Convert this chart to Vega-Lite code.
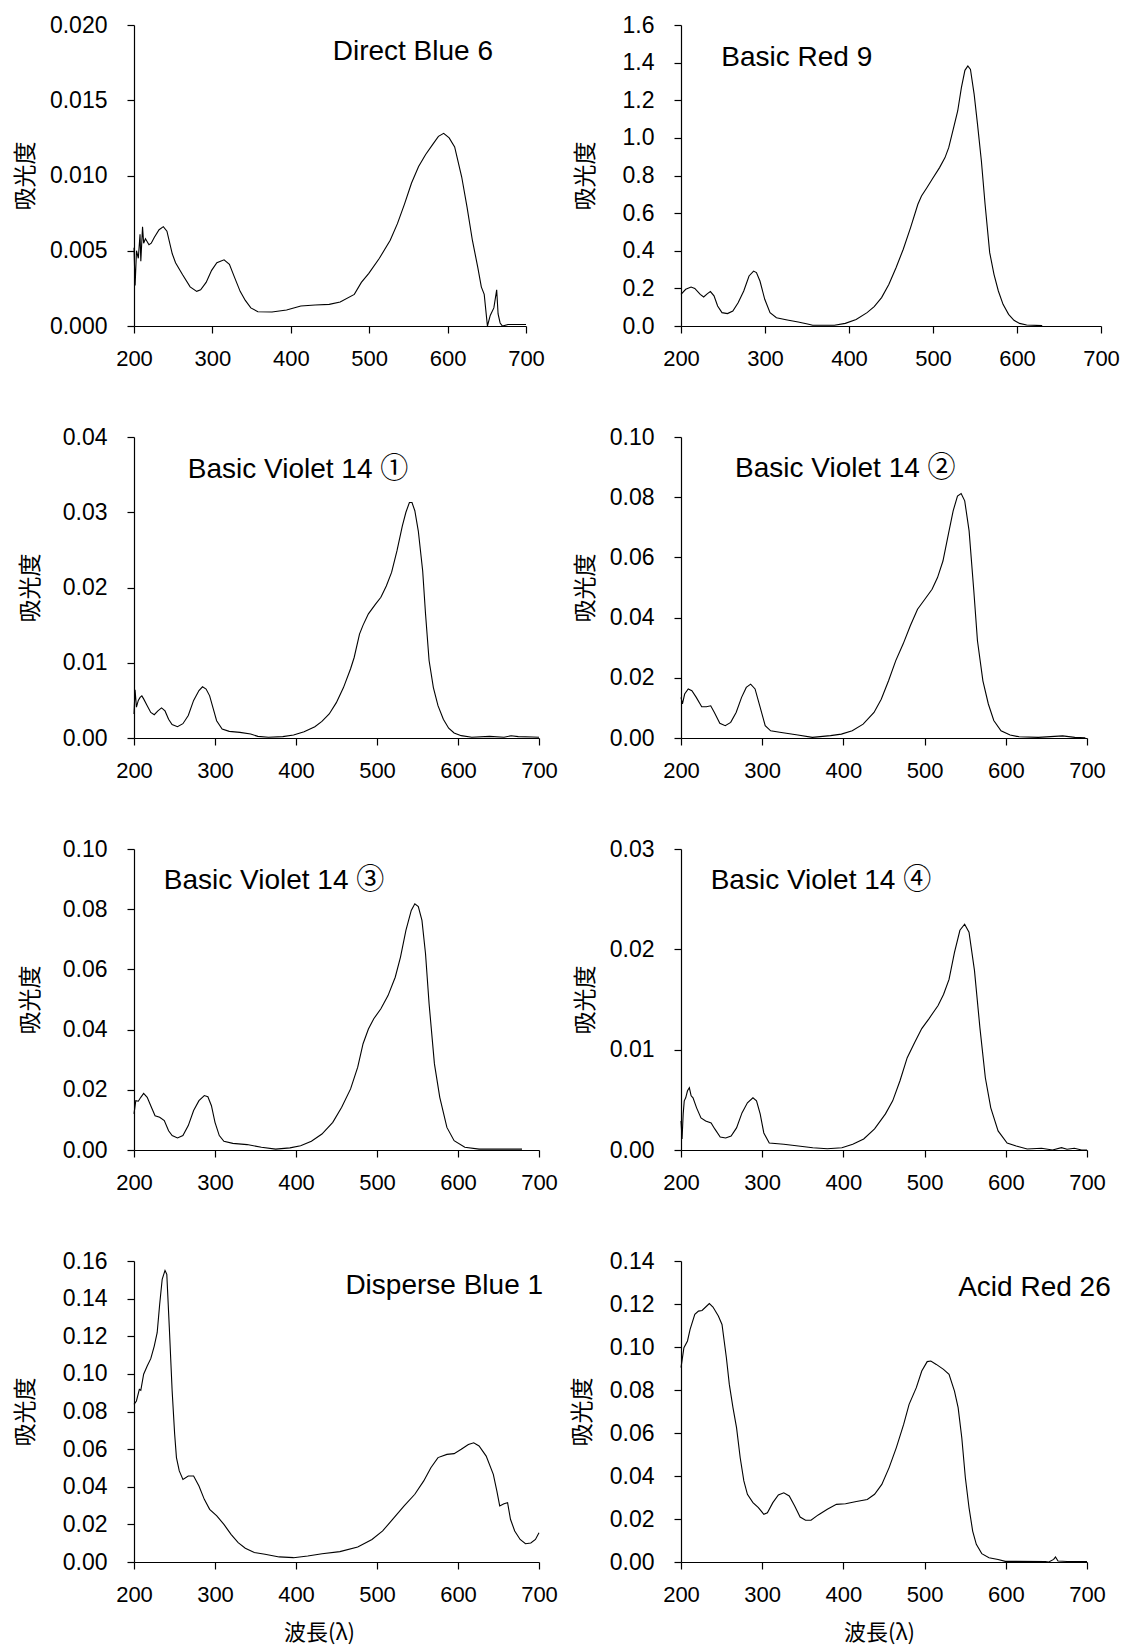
{
  "$schema": "https://vega.github.io/schema/vega-lite/v6.json",
  "padding": {"left": 14, "top": 14, "right": 9, "bottom": 2},
  "background": "white",
  "columns": 2,
  "spacing": {"row": 111, "column": 142},
  "bounds": "flush",
  "align": "each",
  "config": {
    "view": {"stroke": null},
    "axis": {
      "domainColor": "#000", "domainWidth": 1.2,
      "tickColor": "#000", "tickWidth": 1.2, "tickSize": 7,
      "grid": false,
      "labelColor": "#000", "labelFont": "Liberation Sans",
      "titleColor": "#000", "titleFont": "Noto Sans CJK JP", "titleFontSize": 23, "titleFontWeight": "normal"
    },
    "axisX": {"labelFontSize": 22, "labelPadding": 15, "titlePadding": 17, "titleFontSize": 22, "labelFlush": false},
    "axisY": {"labelFontSize": 23, "labelPadding": 20, "titlePadding": 0},
    "line": {"color": "#000", "strokeWidth": 1.1},
    "text": {"font": "Liberation Sans, Noto Sans CJK JP", "fontSize": 28, "color": "#000", "baseline": "alphabetic", "align": "center"}
  },
  "datasets": {
    "direct_blue_6": [
      {"wl":200,"abs":0.0052},{"wl":201.4,"abs":0.0027},{"wl":203.2,"abs":0.005},{"wl":205.5,"abs":0.0045},{"wl":207.7,"abs":0.0061},{"wl":208.7,"abs":0.0043},{"wl":210.9,"abs":0.0066},{"wl":212.3,"abs":0.0055},{"wl":214.6,"abs":0.0058},{"wl":219.1,"abs":0.0054},{"wl":222,"abs":0.0055},{"wl":226,"abs":0.0059},{"wl":232,"abs":0.0064},{"wl":237.4,"abs":0.0066},{"wl":242,"abs":0.0063},{"wl":248.8,"abs":0.0048},{"wl":253,"abs":0.0042},{"wl":262,"abs":0.0034},{"wl":271.6,"abs":0.0026},{"wl":280,"abs":0.0023},{"wl":285,"abs":0.0024},{"wl":292,"abs":0.0029},{"wl":299,"abs":0.0037},{"wl":305.7,"abs":0.0042},{"wl":314.9,"abs":0.0044},{"wl":321.7,"abs":0.0041},{"wl":328.5,"abs":0.0032},{"wl":335.4,"abs":0.0023},{"wl":342,"abs":0.0017},{"wl":349,"abs":0.0012},{"wl":358,"abs":0.00095},{"wl":376,"abs":0.00093},{"wl":394.6,"abs":0.00106},{"wl":412.8,"abs":0.00133},{"wl":431,"abs":0.0014},{"wl":449,"abs":0.00144},{"wl":463,"abs":0.0016},{"wl":481,"abs":0.0021},{"wl":490,"abs":0.0029},{"wl":499.5,"abs":0.0035},{"wl":513,"abs":0.0045},{"wl":526.8,"abs":0.0057},{"wl":536,"abs":0.0068},{"wl":545,"abs":0.0081},{"wl":554,"abs":0.0095},{"wl":563,"abs":0.0106},{"wl":572,"abs":0.0114},{"wl":581.5,"abs":0.0121},{"wl":588.3,"abs":0.0126},{"wl":595,"abs":0.0128},{"wl":602,"abs":0.0125},{"wl":609,"abs":0.0119},{"wl":618,"abs":0.0099},{"wl":624.8,"abs":0.0079},{"wl":631.6,"abs":0.0057},{"wl":638.5,"abs":0.0039},{"wl":643,"abs":0.0026},{"wl":646.7,"abs":0.0021},{"wl":650.8,"abs":0},{"wl":654.4,"abs":0.0007},{"wl":659,"abs":0.0012},{"wl":662.6,"abs":0.0024},{"wl":664.4,"abs":0.0008},{"wl":667,"abs":0.0002},{"wl":670,"abs":0},{"wl":677,"abs":0.0001},{"wl":686,"abs":0.0001},{"wl":700,"abs":0.0001}
    ],
    "basic_red_9": [
      {"wl":200,"abs":0.168},{"wl":205.6,"abs":0.195},{"wl":212,"abs":0.207},{"wl":216.4,"abs":0.2},{"wl":222.9,"abs":0.168},{"wl":227,"abs":0.154},{"wl":231.5,"abs":0.172},{"wl":235,"abs":0.183},{"wl":239.3,"abs":0.16},{"wl":243.6,"abs":0.106},{"wl":248.8,"abs":0.071},{"wl":255.3,"abs":0.066},{"wl":261.7,"abs":0.08},{"wl":268,"abs":0.124},{"wl":274.7,"abs":0.186},{"wl":281,"abs":0.266},{"wl":286.4,"abs":0.292},{"wl":289.8,"abs":0.284},{"wl":294,"abs":0.239},{"wl":299.7,"abs":0.142},{"wl":306,"abs":0.071},{"wl":313.6,"abs":0.044},{"wl":326.5,"abs":0.032},{"wl":339.5,"abs":0.021},{"wl":352,"abs":0.009},{"wl":356.7,"abs":0.004},{"wl":382.6,"abs":0.004},{"wl":395.6,"abs":0.014},{"wl":408.5,"abs":0.035},{"wl":421.5,"abs":0.071},{"wl":430,"abs":0.103},{"wl":438.8,"abs":0.151},{"wl":447.4,"abs":0.221},{"wl":456,"abs":0.31},{"wl":464.6,"abs":0.408},{"wl":473.3,"abs":0.523},{"wl":482,"abs":0.647},{"wl":486.3,"abs":0.691},{"wl":492.7,"abs":0.735},{"wl":499,"abs":0.78},{"wl":507.8,"abs":0.842},{"wl":514.3,"abs":0.895},{"wl":518.7,"abs":0.948},{"wl":525,"abs":1.063},{"wl":529.4,"abs":1.143},{"wl":533.8,"abs":1.267},{"wl":538,"abs":1.359},{"wl":541.5,"abs":1.382},{"wl":544.6,"abs":1.364},{"wl":549,"abs":1.231},{"wl":553,"abs":1.072},{"wl":557.6,"abs":0.877},{"wl":562,"abs":0.647},{"wl":567.5,"abs":0.39},{"wl":572.6,"abs":0.275},{"wl":577.8,"abs":0.186},{"wl":583.4,"abs":0.115},{"wl":590,"abs":0.062},{"wl":596.4,"abs":0.03},{"wl":603,"abs":0.014},{"wl":611.5,"abs":0.005},{"wl":630,"abs":0.002}
    ],
    "basic_violet_14_1": [
      {"wl":200,"abs":0.0032},{"wl":201.3,"abs":0.0064},{"wl":203,"abs":0.0041},{"wl":205.3,"abs":0.005},{"wl":207.5,"abs":0.0054},{"wl":209.7,"abs":0.0056},{"wl":211.9,"abs":0.0052},{"wl":216.3,"abs":0.0043},{"wl":220.7,"abs":0.0034},{"wl":225,"abs":0.0031},{"wl":229.5,"abs":0.0036},{"wl":234,"abs":0.004},{"wl":238.3,"abs":0.0036},{"wl":242.7,"abs":0.0025},{"wl":247,"abs":0.0018},{"wl":253.7,"abs":0.0015},{"wl":260.4,"abs":0.0019},{"wl":267,"abs":0.003},{"wl":273.6,"abs":0.005},{"wl":280.2,"abs":0.0063},{"wl":284.6,"abs":0.0068},{"wl":289,"abs":0.0065},{"wl":293.4,"abs":0.0056},{"wl":297.8,"abs":0.0039},{"wl":302,"abs":0.0023},{"wl":308.8,"abs":0.0012},{"wl":317.6,"abs":0.00088},{"wl":330.8,"abs":0.00075},{"wl":344,"abs":0.00053},{"wl":352.9,"abs":0.00022},{"wl":366,"abs":0.0001},{"wl":383.7,"abs":0.00018},{"wl":397,"abs":0.0004},{"wl":410,"abs":0.00084},{"wl":423.3,"abs":0.0015},{"wl":432,"abs":0.0022},{"wl":441,"abs":0.0032},{"wl":449.8,"abs":0.0047},{"wl":458.6,"abs":0.0067},{"wl":467.4,"abs":0.0092},{"wl":471.8,"abs":0.0107},{"wl":478.4,"abs":0.0138},{"wl":482.8,"abs":0.015},{"wl":489.4,"abs":0.0165},{"wl":498.2,"abs":0.0178},{"wl":504.8,"abs":0.0187},{"wl":511.5,"abs":0.0202},{"wl":518,"abs":0.022},{"wl":524.7,"abs":0.0249},{"wl":531.3,"abs":0.0282},{"wl":535.7,"abs":0.03},{"wl":540,"abs":0.0313},{"wl":543.2,"abs":0.0313},{"wl":546.7,"abs":0.0302},{"wl":551,"abs":0.0275},{"wl":556.4,"abs":0.0222},{"wl":559.9,"abs":0.0165},{"wl":564.3,"abs":0.0103},{"wl":569.6,"abs":0.0067},{"wl":575.3,"abs":0.0043},{"wl":581.9,"abs":0.0025},{"wl":588.5,"abs":0.0013},{"wl":595.2,"abs":0.00066},{"wl":604,"abs":0.00031},{"wl":617,"abs":0.0001},{"wl":639,"abs":0.00022},{"wl":656.8,"abs":0.0001},{"wl":665.6,"abs":0.0003},{"wl":674.4,"abs":0.00018},{"wl":692,"abs":0.00013},{"wl":700,"abs":0.0001}
    ],
    "basic_violet_14_2": [
      {"wl":200,"abs":0.0135},{"wl":201.8,"abs":0.0113},{"wl":204.5,"abs":0.0146},{"wl":208.9,"abs":0.0163},{"wl":213.4,"abs":0.0157},{"wl":218.8,"abs":0.0135},{"wl":225.5,"abs":0.0104},{"wl":231.3,"abs":0.0104},{"wl":236.6,"abs":0.0107},{"wl":241.1,"abs":0.0085},{"wl":247.8,"abs":0.0049},{"wl":254.5,"abs":0.0041},{"wl":261.2,"abs":0.0052},{"wl":267.9,"abs":0.0085},{"wl":274.6,"abs":0.0135},{"wl":280.4,"abs":0.0168},{"wl":285.8,"abs":0.0179},{"wl":291.2,"abs":0.0163},{"wl":297,"abs":0.0107},{"wl":303.7,"abs":0.0041},{"wl":310.4,"abs":0.0024},{"wl":321.5,"abs":0.0019},{"wl":343.9,"abs":0.001},{"wl":361.8,"abs":0.0002},{"wl":384.1,"abs":0.0008},{"wl":397.5,"abs":0.0013},{"wl":410.9,"abs":0.0024},{"wl":424.3,"abs":0.0046},{"wl":437.7,"abs":0.0085},{"wl":446.6,"abs":0.0129},{"wl":455.6,"abs":0.019},{"wl":464.5,"abs":0.0257},{"wl":473.5,"abs":0.0312},{"wl":482.4,"abs":0.0373},{"wl":491.3,"abs":0.0428},{"wl":500.3,"abs":0.0461},{"wl":509.2,"abs":0.0494},{"wl":515.9,"abs":0.0533},{"wl":522.6,"abs":0.0588},{"wl":529.3,"abs":0.0677},{"wl":535.1,"abs":0.0754},{"wl":540.5,"abs":0.0804},{"wl":545,"abs":0.0812},{"wl":549.4,"abs":0.0788},{"wl":554.8,"abs":0.0688},{"wl":560.6,"abs":0.0489},{"wl":565.1,"abs":0.0323},{"wl":571.8,"abs":0.019},{"wl":578.5,"abs":0.0113},{"wl":585.2,"abs":0.0058},{"wl":594.1,"abs":0.0024},{"wl":605.3,"abs":0.001},{"wl":616.4,"abs":0.0004},{"wl":640,"abs":0.0002},{"wl":670,"abs":0.0007},{"wl":685,"abs":0.0002},{"wl":698,"abs":0.0001}
    ],
    "basic_violet_14_3": [
      {"wl":200,"abs":0.012},{"wl":202.2,"abs":0.0164},{"wl":205.3,"abs":0.0162},{"wl":208.4,"abs":0.0175},{"wl":211.9,"abs":0.0188},{"wl":216.3,"abs":0.0175},{"wl":220.7,"abs":0.0147},{"wl":226,"abs":0.0114},{"wl":231.7,"abs":0.0109},{"wl":237.4,"abs":0.0098},{"wl":242.7,"abs":0.0064},{"wl":247.1,"abs":0.0048},{"wl":253.7,"abs":0.004},{"wl":260.4,"abs":0.0048},{"wl":267,"abs":0.0081},{"wl":273.6,"abs":0.0131},{"wl":280.2,"abs":0.0164},{"wl":286.8,"abs":0.0181},{"wl":291.2,"abs":0.0177},{"wl":295.6,"abs":0.0147},{"wl":300,"abs":0.0092},{"wl":305.3,"abs":0.0048},{"wl":311,"abs":0.0029},{"wl":322,"abs":0.0022},{"wl":339.6,"abs":0.0018},{"wl":357.3,"abs":0.0009},{"wl":374.9,"abs":0.0003},{"wl":392.5,"abs":0.0007},{"wl":405.7,"abs":0.0014},{"wl":419,"abs":0.0029},{"wl":432,"abs":0.0053},{"wl":445.4,"abs":0.0092},{"wl":456.4,"abs":0.0142},{"wl":467.4,"abs":0.0203},{"wl":476.2,"abs":0.0275},{"wl":482.8,"abs":0.0353},{"wl":489.4,"abs":0.0402},{"wl":496,"abs":0.0436},{"wl":504.8,"abs":0.0469},{"wl":513.6,"abs":0.0513},{"wl":522.5,"abs":0.0574},{"wl":529,"abs":0.0641},{"wl":535.7,"abs":0.073},{"wl":542.3,"abs":0.0796},{"wl":546.7,"abs":0.0818},{"wl":551,"abs":0.0809},{"wl":555.5,"abs":0.0763},{"wl":559.9,"abs":0.0652},{"wl":564.3,"abs":0.0486},{"wl":570.9,"abs":0.0286},{"wl":577.5,"abs":0.0175},{"wl":586.3,"abs":0.0075},{"wl":595.2,"abs":0.0031},{"wl":608.4,"abs":0.0009},{"wl":626,"abs":0.0003},{"wl":679,"abs":0.0003}
    ],
    "basic_violet_14_4": [
      {"wl":200,"abs":0.0029},{"wl":201.3,"abs":0.0011},{"wl":202.7,"abs":0.0036},{"wl":204,"abs":0.0049},{"wl":205.8,"abs":0.0052},{"wl":208,"abs":0.0059},{"wl":210.3,"abs":0.0062},{"wl":212.5,"abs":0.0054},{"wl":214.8,"abs":0.0052},{"wl":219.2,"abs":0.0042},{"wl":224.6,"abs":0.0032},{"wl":230.4,"abs":0.0029},{"wl":237.1,"abs":0.0027},{"wl":241.6,"abs":0.0021},{"wl":248.3,"abs":0.0013},{"wl":255,"abs":0.0012},{"wl":261.7,"abs":0.0014},{"wl":268.4,"abs":0.0022},{"wl":275.1,"abs":0.0037},{"wl":281.8,"abs":0.0047},{"wl":288.6,"abs":0.0052},{"wl":293,"abs":0.0049},{"wl":297.5,"abs":0.0036},{"wl":302,"abs":0.0017},{"wl":308.7,"abs":0.0007},{"wl":326.6,"abs":0.00057},{"wl":344.5,"abs":0.0004},{"wl":362.3,"abs":0.00023},{"wl":380.2,"abs":0.00013},{"wl":398.1,"abs":0.00023},{"wl":411.5,"abs":0.00057},{"wl":425,"abs":0.0011},{"wl":438.4,"abs":0.0021},{"wl":451.8,"abs":0.0036},{"wl":460.7,"abs":0.0049},{"wl":469.7,"abs":0.0069},{"wl":478.6,"abs":0.0092},{"wl":487.6,"abs":0.0107},{"wl":496.5,"abs":0.0121},{"wl":505.5,"abs":0.0131},{"wl":516.6,"abs":0.0144},{"wl":523.3,"abs":0.0155},{"wl":530.1,"abs":0.017},{"wl":536.8,"abs":0.0197},{"wl":543.5,"abs":0.0219},{"wl":549.3,"abs":0.0225},{"wl":554.7,"abs":0.0217},{"wl":561.4,"abs":0.0179},{"wl":568.1,"abs":0.0122},{"wl":574.8,"abs":0.0072},{"wl":581.5,"abs":0.0042},{"wl":590.5,"abs":0.0019},{"wl":601.6,"abs":0.0007},{"wl":612.8,"abs":0.0004},{"wl":626.3,"abs":0.0001},{"wl":644,"abs":0.00017},{"wl":657.5,"abs":0},{"wl":668.6,"abs":0.00023},{"wl":675.4,"abs":0.00007},{"wl":684.4,"abs":0.00017},{"wl":693.3,"abs":0},{"wl":700,"abs":0}
    ],
    "disperse_blue_1": [
      {"wl":200,"abs":0.0838},{"wl":203,"abs":0.0856},{"wl":206.6,"abs":0.0918},{"wl":208.4,"abs":0.0913},{"wl":211.9,"abs":0.0998},{"wl":216.3,"abs":0.1042},{"wl":220.7,"abs":0.1081},{"wl":225,"abs":0.1148},{"wl":228.6,"abs":0.1219},{"wl":231.7,"abs":0.137},{"wl":234.8,"abs":0.1503},{"wl":238.3,"abs":0.155},{"wl":240.5,"abs":0.1529},{"wl":243.6,"abs":0.1246},{"wl":247.1,"abs":0.0909},{"wl":250.2,"abs":0.0679},{"wl":252.4,"abs":0.0555},{"wl":255.9,"abs":0.0484},{"wl":260.4,"abs":0.0439},{"wl":267,"abs":0.0457},{"wl":273.6,"abs":0.0457},{"wl":280.2,"abs":0.0404},{"wl":286.8,"abs":0.0333},{"wl":293.4,"abs":0.028},{"wl":302.2,"abs":0.0245},{"wl":311,"abs":0.02},{"wl":319.8,"abs":0.0147},{"wl":328.6,"abs":0.0103},{"wl":337.4,"abs":0.0073},{"wl":348.5,"abs":0.005},{"wl":361.7,"abs":0.0041},{"wl":379.3,"abs":0.0027},{"wl":396.9,"abs":0.0023},{"wl":414.5,"abs":0.0032},{"wl":432.2,"abs":0.0044},{"wl":454.2,"abs":0.0055},{"wl":476.2,"abs":0.008},{"wl":493.8,"abs":0.012},{"wl":507,"abs":0.0165},{"wl":520.3,"abs":0.0232},{"wl":533.5,"abs":0.0298},{"wl":546.7,"abs":0.036},{"wl":557.7,"abs":0.0431},{"wl":566.5,"abs":0.0501},{"wl":575.3,"abs":0.0555},{"wl":586.3,"abs":0.0572},{"wl":595.2,"abs":0.0576},{"wl":604,"abs":0.0599},{"wl":612.8,"abs":0.0625},{"wl":619.4,"abs":0.0634},{"wl":626,"abs":0.0617},{"wl":634.8,"abs":0.0563},{"wl":643.6,"abs":0.0466},{"wl":648,"abs":0.0377},{"wl":651.5,"abs":0.0298},{"wl":656.8,"abs":0.031},{"wl":661.2,"abs":0.0315},{"wl":664.8,"abs":0.0227},{"wl":670,"abs":0.0165},{"wl":676.7,"abs":0.012},{"wl":683.3,"abs":0.0097},{"wl":689.9,"abs":0.0101},{"wl":695.6,"abs":0.012},{"wl":700,"abs":0.0156}
    ],
    "acid_red_26": [
      {"wl":200,"abs":0.0904},{"wl":203.6,"abs":0.0997},{"wl":208,"abs":0.1028},{"wl":211.2,"abs":0.1082},{"wl":217,"abs":0.1152},{"wl":221.5,"abs":0.1167},{"wl":225.9,"abs":0.117},{"wl":230.4,"abs":0.1186},{"wl":234.9,"abs":0.1202},{"wl":239.4,"abs":0.1186},{"wl":246,"abs":0.1144},{"wl":250.5,"abs":0.1105},{"wl":255.9,"abs":0.095},{"wl":259.5,"abs":0.0826},{"wl":264,"abs":0.0718},{"wl":268.4,"abs":0.0625},{"wl":272.9,"abs":0.0485},{"wl":277.4,"abs":0.0377},{"wl":281.8,"abs":0.0315},{"wl":288.6,"abs":0.0276},{"wl":295.3,"abs":0.0253},{"wl":302,"abs":0.0222},{"wl":306.4,"abs":0.0229},{"wl":313.1,"abs":0.0276},{"wl":319.9,"abs":0.0312},{"wl":326.6,"abs":0.0322},{"wl":333.3,"abs":0.0307},{"wl":340,"abs":0.026},{"wl":346.7,"abs":0.0209},{"wl":353.4,"abs":0.0194},{"wl":360.1,"abs":0.0194},{"wl":369,"abs":0.0219},{"wl":380.2,"abs":0.0245},{"wl":391.4,"abs":0.0268},{"wl":402.6,"abs":0.0271},{"wl":416,"abs":0.0281},{"wl":429.4,"abs":0.0291},{"wl":438.4,"abs":0.0315},{"wl":447.3,"abs":0.0361},{"wl":456.3,"abs":0.0439},{"wl":465.2,"abs":0.0532},{"wl":474.2,"abs":0.064},{"wl":480.9,"abs":0.0733},{"wl":489.8,"abs":0.0811},{"wl":496.5,"abs":0.0888},{"wl":503.2,"abs":0.0932},{"wl":507.7,"abs":0.0935},{"wl":514.4,"abs":0.0919},{"wl":523.3,"abs":0.0896},{"wl":530.1,"abs":0.0873},{"wl":536.8,"abs":0.0795},{"wl":541.3,"abs":0.0718},{"wl":545.8,"abs":0.0578},{"wl":550.2,"abs":0.0392},{"wl":554.7,"abs":0.0253},{"wl":559.2,"abs":0.0144},{"wl":563.7,"abs":0.0082},{"wl":570.4,"abs":0.0039},{"wl":579.3,"abs":0.002},{"wl":590.5,"abs":0.0012},{"wl":599.4,"abs":0.0003},{"wl":648.6,"abs":0.0002},{"wl":653,"abs":0},{"wl":658.9,"abs":0.0012},{"wl":661.2,"abs":0.0023},{"wl":664.3,"abs":0.0005},{"wl":675.5,"abs":0.0002},{"wl":700,"abs":0.0002}
    ]
  },
  "concat": [
    {
      "width": 392, "height": 301,
      "layer": [
        {
          "data": {"name": "direct_blue_6"},
          "mark": "line",
          "encoding": {
            "x": {"field": "wl", "type": "quantitative", "scale": {"domain": [200, 700], "nice": false}, "axis": {"title": null, "values": [200, 300, 400, 500, 600, 700], "tickCount": 20, "format": "d", "labelOverlap": false}},
            "y": {"field": "abs", "type": "quantitative", "scale": {"domain": [0, 0.02], "nice": false}, "axis": {"title": "吸光度", "values": [0, 0.005, 0.01, 0.015, 0.02], "tickCount": 20, "format": ".3f", "labelOverlap": false, "minExtent": 96.6, "maxExtent": 96.6}}
          }
        },
        {
          "data": {"values": [{"label": "Direct Blue 6"}]},
          "mark": "text",
          "encoding": {
            "x": {"datum": 555.7, "type": "quantitative"},
            "y": {"datum": 0.0177, "type": "quantitative"},
            "text": {"field": "label"}
          }
        }
      ]
    },
    {
      "width": 420, "height": 301,
      "layer": [
        {
          "data": {"name": "basic_red_9"},
          "mark": "line",
          "encoding": {
            "x": {"field": "wl", "type": "quantitative", "scale": {"domain": [200, 700], "nice": false}, "axis": {"title": null, "values": [200, 300, 400, 500, 600, 700], "tickCount": 20, "format": "d", "labelOverlap": false}},
            "y": {"field": "abs", "type": "quantitative", "scale": {"domain": [0, 1.6], "nice": false}, "axis": {"title": "吸光度", "values": [0, 0.2, 0.4, 0.6, 0.8, 1.0, 1.2, 1.4, 1.6], "tickCount": 20, "format": ".1f", "labelOverlap": false, "minExtent": 83.3, "maxExtent": 83.3}}
          }
        },
        {
          "data": {"values": [{"label": "Basic Red 9"}]},
          "mark": "text",
          "encoding": {
            "x": {"datum": 337.8, "type": "quantitative"},
            "y": {"datum": 1.382, "type": "quantitative"},
            "text": {"field": "label"}
          }
        }
      ]
    },
    {
      "width": 405, "height": 301,
      "layer": [
        {
          "data": {"name": "basic_violet_14_1"},
          "mark": "line",
          "encoding": {
            "x": {"field": "wl", "type": "quantitative", "scale": {"domain": [200, 700], "nice": false}, "axis": {"title": null, "values": [200, 300, 400, 500, 600, 700], "tickCount": 20, "format": "d", "labelOverlap": false}},
            "y": {"field": "abs", "type": "quantitative", "scale": {"domain": [0, 0.04], "nice": false}, "axis": {"title": "吸光度", "values": [0, 0.01, 0.02, 0.03, 0.04], "tickCount": 20, "format": ".2f", "labelOverlap": false, "minExtent": 91.2, "maxExtent": 91.2}}
          }
        },
        {
          "data": {"values": [{"label": "Basic Violet 14 ①"}]},
          "mark": "text",
          "encoding": {
            "x": {"datum": 402.5, "type": "quantitative"},
            "y": {"datum": 0.0346, "type": "quantitative"},
            "text": {"field": "label"}
          }
        }
      ]
    },
    {
      "width": 406, "height": 301,
      "layer": [
        {
          "data": {"name": "basic_violet_14_2"},
          "mark": "line",
          "encoding": {
            "x": {"field": "wl", "type": "quantitative", "scale": {"domain": [200, 700], "nice": false}, "axis": {"title": null, "values": [200, 300, 400, 500, 600, 700], "tickCount": 20, "format": "d", "labelOverlap": false}},
            "y": {"field": "abs", "type": "quantitative", "scale": {"domain": [0, 0.1], "nice": false}, "axis": {"title": "吸光度", "values": [0, 0.02, 0.04, 0.06, 0.08, 0.1], "tickCount": 20, "format": ".2f", "labelOverlap": false, "minExtent": 83.3, "maxExtent": 83.3}}
          }
        },
        {
          "data": {"values": [{"label": "Basic Violet 14 ②"}]},
          "mark": "text",
          "encoding": {
            "x": {"datum": 402.4, "type": "quantitative"},
            "y": {"datum": 0.0866, "type": "quantitative"},
            "text": {"field": "label"}
          }
        }
      ]
    },
    {
      "width": 405, "height": 301,
      "layer": [
        {
          "data": {"name": "basic_violet_14_3"},
          "mark": "line",
          "encoding": {
            "x": {"field": "wl", "type": "quantitative", "scale": {"domain": [200, 700], "nice": false}, "axis": {"title": null, "values": [200, 300, 400, 500, 600, 700], "tickCount": 20, "format": "d", "labelOverlap": false}},
            "y": {"field": "abs", "type": "quantitative", "scale": {"domain": [0, 0.1], "nice": false}, "axis": {"title": "吸光度", "values": [0, 0.02, 0.04, 0.06, 0.08, 0.1], "tickCount": 20, "format": ".2f", "labelOverlap": false, "minExtent": 91.6, "maxExtent": 91.6}}
          }
        },
        {
          "data": {"values": [{"label": "Basic Violet 14 ③"}]},
          "mark": "text",
          "encoding": {
            "x": {"datum": 372.9, "type": "quantitative"},
            "y": {"datum": 0.0867, "type": "quantitative"},
            "text": {"field": "label"}
          }
        }
      ]
    },
    {
      "width": 406, "height": 301,
      "layer": [
        {
          "data": {"name": "basic_violet_14_4"},
          "mark": "line",
          "encoding": {
            "x": {"field": "wl", "type": "quantitative", "scale": {"domain": [200, 700], "nice": false}, "axis": {"title": null, "values": [200, 300, 400, 500, 600, 700], "tickCount": 20, "format": "d", "labelOverlap": false}},
            "y": {"field": "abs", "type": "quantitative", "scale": {"domain": [0, 0.03], "nice": false}, "axis": {"title": "吸光度", "values": [0, 0.01, 0.02, 0.03], "tickCount": 20, "format": ".2f", "labelOverlap": false, "minExtent": 83.3, "maxExtent": 83.3}}
          }
        },
        {
          "data": {"values": [{"label": "Basic Violet 14 ④"}]},
          "mark": "text",
          "encoding": {
            "x": {"datum": 372.3, "type": "quantitative"},
            "y": {"datum": 0.026, "type": "quantitative"},
            "text": {"field": "label"}
          }
        }
      ]
    },
    {
      "width": 405, "height": 301,
      "layer": [
        {
          "data": {"name": "disperse_blue_1"},
          "mark": "line",
          "encoding": {
            "x": {"field": "wl", "type": "quantitative", "scale": {"domain": [200, 700], "nice": false}, "axis": {"title": "波長(λ)", "titleX": 185, "values": [200, 300, 400, 500, 600, 700], "tickCount": 20, "format": "d", "labelOverlap": false}},
            "y": {"field": "abs", "type": "quantitative", "scale": {"domain": [0, 0.16], "nice": false}, "axis": {"title": "吸光度", "values": [0, 0.02, 0.04, 0.06, 0.08, 0.1, 0.12, 0.14, 0.16], "tickCount": 20, "format": ".2f", "labelOverlap": false, "minExtent": 96.6, "maxExtent": 96.6}}
          }
        },
        {
          "data": {"values": [{"label": "Disperse Blue 1"}]},
          "mark": "text",
          "encoding": {
            "x": {"datum": 583, "type": "quantitative"},
            "y": {"datum": 0.1423, "type": "quantitative"},
            "text": {"field": "label"}
          }
        }
      ]
    },
    {
      "width": 406, "height": 301,
      "layer": [
        {
          "data": {"name": "acid_red_26"},
          "mark": "line",
          "encoding": {
            "x": {"field": "wl", "type": "quantitative", "scale": {"domain": [200, 700], "nice": false}, "axis": {"title": "波長(λ)", "titleX": 198, "values": [200, 300, 400, 500, 600, 700], "tickCount": 20, "format": "d", "labelOverlap": false}},
            "y": {"field": "abs", "type": "quantitative", "scale": {"domain": [0, 0.14], "nice": false}, "axis": {"title": "吸光度", "values": [0, 0.02, 0.04, 0.06, 0.08, 0.1, 0.12, 0.14], "tickCount": 20, "format": ".2f", "labelOverlap": false, "minExtent": 86.8, "maxExtent": 86.8}}
          }
        },
        {
          "data": {"values": [{"label": "Acid Red 26"}]},
          "mark": "text",
          "encoding": {
            "x": {"datum": 635.3, "type": "quantitative"},
            "y": {"datum": 0.1237, "type": "quantitative"},
            "text": {"field": "label"}
          }
        }
      ]
    }
  ]
}
